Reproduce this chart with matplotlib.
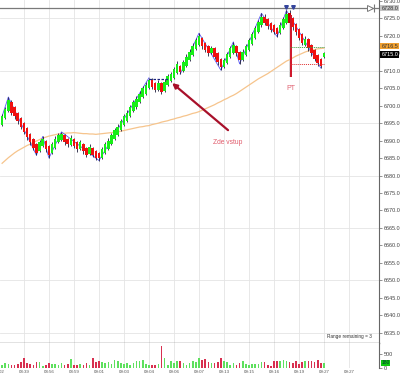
import matplotlib
matplotlib.use("Agg")
import matplotlib.pyplot as plt
from matplotlib.transforms import blended_transform_factory

plt.rcParams['font.family'] = ['Liberation Sans', 'DejaVu Sans']

# ---------------- data ----------------
opens = [6694.5, 6696.5, 6698.5, 6701.0, 6699.5, 6698.0, 6696.5, 6695.0, 6693.5, 6692.0,
         6690.5, 6689.0, 6687.0, 6688.5, 6690.0, 6688.5, 6686.5, 6688.0, 6689.5, 6690.3,
         6691.5, 6690.5, 6688.8, 6690.5, 6689.5, 6687.5, 6689.0, 6688.0, 6686.3, 6688.0,
         6687.0, 6686.5, 6685.0, 6686.5, 6687.5, 6689.0, 6690.5, 6691.5, 6693.0, 6694.5,
         6695.5, 6697.0, 6698.5, 6699.5, 6701.0, 6702.5, 6703.5, 6705.0, 6707.5, 6706.5,
         6704.5, 6706.5, 6704.2, 6706.0, 6707.0, 6708.0, 6709.5, 6711.5, 6710.0, 6711.5,
         6713.0, 6714.5, 6716.2, 6717.5, 6719.5, 6718.0, 6717.0, 6715.0, 6716.5, 6715.0,
         6713.5, 6711.0, 6712.2, 6714.0, 6715.2, 6717.0, 6715.5, 6713.0, 6714.5, 6716.0,
         6717.8, 6719.5, 6721.2, 6723.0, 6725.5, 6724.8, 6723.8, 6723.0, 6722.2, 6720.8,
         6722.2, 6723.8, 6726.5, 6725.0, 6723.5, 6722.0, 6720.5, 6717.5, 6719.0, 6717.5,
         6716.0, 6714.5, 6713.5, 6714.0]
highs = [6697.6, 6699.7, 6702.5, 6701.5, 6699.8, 6698.3, 6696.8, 6695.3, 6693.8, 6692.3,
         6690.8, 6689.3, 6690.2, 6691.2, 6690.3, 6688.8, 6689.7, 6691.2, 6692.3, 6692.5,
         6691.8, 6690.8, 6691.5, 6690.8, 6689.8, 6690.2, 6689.3, 6688.3, 6689.0, 6688.3,
         6687.3, 6686.8, 6688.2, 6689.7, 6690.7, 6692.2, 6693.7, 6694.7, 6696.2, 6697.7,
         6698.7, 6700.2, 6701.7, 6702.7, 6704.2, 6705.7, 6706.7, 6708.0, 6708.0, 6706.8,
         6707.5, 6706.8, 6707.8, 6709.0, 6709.7, 6711.2, 6712.8, 6711.8, 6713.2, 6714.7,
         6716.2, 6717.9, 6719.5, 6720.8, 6719.8, 6718.3, 6717.3, 6717.2, 6716.8, 6715.3,
         6713.8, 6713.7, 6715.5, 6717.2, 6718.3, 6717.3, 6715.8, 6716.2, 6717.7, 6719.5,
         6721.2, 6722.9, 6724.7, 6726.5, 6726.2, 6725.1, 6724.1, 6723.3, 6722.5, 6723.9,
         6725.5, 6727.3, 6727.4, 6725.3, 6723.8, 6722.3, 6720.8, 6720.0, 6719.3, 6717.8,
         6716.3, 6714.8, 6713.8, 6715.3]
lows = [6694.2, 6696.2, 6698.2, 6697.3, 6696.3, 6694.8, 6693.3, 6691.8, 6690.3, 6688.8,
        6687.3, 6685.8, 6686.7, 6688.2, 6686.8, 6685.0, 6686.2, 6687.7, 6689.2, 6690.0,
        6688.8, 6688.3, 6688.5, 6687.8, 6686.8, 6687.2, 6686.3, 6685.3, 6686.0, 6685.3,
        6684.5, 6684.3, 6684.7, 6686.2, 6687.2, 6688.7, 6690.2, 6691.2, 6692.7, 6694.2,
        6695.2, 6696.7, 6698.2, 6699.2, 6700.7, 6702.2, 6703.2, 6704.7, 6704.8, 6703.8,
        6704.2, 6703.5, 6703.9, 6705.7, 6706.7, 6707.7, 6709.2, 6709.1, 6709.7, 6711.2,
        6712.7, 6714.2, 6715.9, 6717.2, 6716.3, 6715.3, 6714.3, 6714.7, 6713.3, 6711.8,
        6710.2, 6710.7, 6711.9, 6713.7, 6714.9, 6714.3, 6712.0, 6712.7, 6714.2, 6715.7,
        6717.5, 6719.2, 6720.9, 6722.7, 6723.1, 6722.1, 6721.1, 6720.5, 6719.8, 6720.5,
        6721.9, 6723.5, 6723.1, 6721.8, 6720.3, 6718.8, 6717.3, 6717.2, 6715.8, 6714.3,
        6712.8, 6711.5, 6710.8, 6713.8]
closes = [6697.0, 6699.0, 6701.5, 6698.0, 6697.0, 6695.5, 6694.0, 6692.5, 6691.0, 6689.5,
          6688.0, 6686.5, 6689.5, 6690.5, 6687.5, 6686.0, 6689.0, 6690.5, 6691.5, 6691.8,
          6689.5, 6689.0, 6690.8, 6688.5, 6687.5, 6689.5, 6687.0, 6686.0, 6688.3, 6686.0,
          6685.0, 6685.0, 6687.5, 6689.0, 6690.0, 6691.5, 6693.0, 6694.0, 6695.5, 6697.0,
          6698.0, 6699.5, 6701.0, 6702.0, 6703.5, 6705.0, 6706.0, 6707.5, 6705.5, 6704.5,
          6706.5, 6704.0, 6706.8, 6708.5, 6709.0, 6710.5, 6712.0, 6709.8, 6712.5, 6714.0,
          6715.5, 6717.2, 6718.8, 6720.0, 6717.0, 6716.0, 6715.0, 6716.5, 6714.0, 6712.5,
          6711.0, 6713.0, 6714.8, 6716.5, 6717.5, 6715.0, 6713.2, 6715.5, 6717.0, 6718.8,
          6720.5, 6722.2, 6724.0, 6725.5, 6723.8, 6722.8, 6721.8, 6721.2, 6720.5, 6723.2,
          6724.8, 6726.3, 6723.8, 6722.5, 6721.0, 6719.5, 6718.0, 6719.0, 6716.5, 6715.0,
          6713.5, 6712.2, 6711.5, 6715.0]
volumes = [120, 180, 150, 100, 120, 150, 200, 360, 180, 150,
           120, 210, 220, 80, 120, 180, 130, 150, 120, 180,
           120, 150, 330, 120, 100, 140, 120, 180, 110, 340,
           210, 260, 220, 180, 210, 160, 300, 260, 180, 150,
           180, 120, 180, 260, 250, 300, 150, 100, 120, 110,
           130, 780, 360, 120, 240, 180, 240, 260, 180, 120,
           180, 240, 200, 360, 300, 335, 210, 180, 180, 200,
           360, 265, 215, 120, 180, 120, 180, 240, 150, 120,
           150, 140, 160, 215, 215, 120, 60, 240, 265, 265,
           300, 260, 215, 180, 240, 145, 215, 240, 265, 265,
           220, 300, 180, 180]
ma_values = [6683.5, 6684.3, 6685.1, 6685.8, 6686.5, 6687.1, 6687.6, 6688.1, 6688.6, 6689.0,
             6689.5, 6689.9, 6690.3, 6690.7, 6691.0, 6691.3, 6691.5, 6691.7, 6691.9, 6692.0,
             6692.1, 6692.2, 6692.2, 6692.3, 6692.2, 6692.1, 6692.0, 6692.0, 6691.9, 6691.9,
             6691.8, 6691.9, 6692.0, 6692.1, 6692.2, 6692.3, 6692.4, 6692.5, 6692.7, 6692.9,
             6693.1, 6693.3, 6693.5, 6693.7, 6693.9, 6694.0, 6694.2, 6694.3, 6694.6, 6694.8,
             6695.0, 6695.3, 6695.5, 6695.7, 6696.0, 6696.2, 6696.5, 6696.7, 6697.0, 6697.2,
             6697.5, 6697.8, 6698.0, 6698.3, 6698.7, 6699.1, 6699.5, 6699.9, 6700.3, 6700.8,
             6701.2, 6701.7, 6702.1, 6702.6, 6703.0, 6703.5, 6704.1, 6704.7, 6705.3, 6705.9,
             6706.5, 6707.1, 6707.7, 6708.2, 6708.7, 6709.2, 6709.8, 6710.4, 6711.0, 6711.6,
             6712.2, 6712.8, 6713.2, 6713.7, 6714.2, 6714.6, 6715.0, 6715.4, 6715.7, 6715.9,
             6716.1, 6716.3, 6716.4, 6716.5]
zigzag_a_x = [0, 2, 11, 13, 15, 19, 31, 47]
zigzag_a_y = [6697.0, 6702.5, 6685.8, 6691.2, 6685.0, 6692.5, 6684.3, 6708.0]
zigzag_b_x = [57, 63, 70, 74, 76, 83, 88, 91, 102]
zigzag_b_y = [6709.1, 6720.8, 6710.2, 6718.3, 6712.0, 6726.5, 6719.8, 6727.3, 6710.8]
double_top_x = [47, 53]
double_top_y = [6707.8, 6707.8]
time_labels = ["08:02", "08:39", "08:56", "08:59", "09:01", "09:03", "09:04", "09:06",
               "09:07", "09:13", "09:15", "09:16", "09:19", "09:27", "09:27"]
time_label_bars = [-1, 7, 15, 23, 31, 39, 47, 55, 63, 71, 79, 87, 95, 103, 111]
price_ticks = [6635 + 5 * k for k in range(20)]
grid_prices = [6635, 6650, 6665, 6680, 6695, 6710, 6725]
target_line = 6728.0
last_price = 6715.0
ma_last = 6716.5
pt_bar = 92
pt_top, pt_bottom = 6726.0, 6708.2
green_level, red_level = 6716.9, 6711.9
level_start, level_end = 92, 103
entry_tip = (54.4, 6706.5)
entry_tail = (72.3, 6693.0)
entry_text_pos = (72.3, 6689.6)
pt_text_pos = (92.4, 6704.8)

# ---------------- figure ----------------
W, H = 400, 379
fig = plt.figure(figsize=(4.0, 3.79), dpi=100)
ax = fig.add_axes([0, 36 / H, 379 / W, 343 / H])
axv = fig.add_axes([0, 11 / H, 379 / W, 25 / H])

xlim = (-0.672, 120.61)
for a in (ax, axv):
    a.set_xlim(*xlim)
    a.set_facecolor("white")
    for b in time_label_bars:
        a.axvline(b, color="#e4e4e4", lw=0.6, zorder=0)
ax.set_ylim(6632.0, 6730.3)
axv.set_ylim(0, 893)
for gp in grid_prices:
    ax.axhline(gp, color="#e4e4e4", lw=0.6, zorder=0)

up_col, dn_col = "#18ee18", "#f01010"
wick_col = "#1e1e3c"
idx = list(range(len(closes)))
cols = [up_col if c >= o else dn_col for o, c in zip(opens, closes)]
cols[pt_bar] = "#c00000"
bottoms = [min(o, c) for o, c in zip(opens, closes)]
heights = [abs(c - o) for o, c in zip(opens, closes)]

# MA and zigzag behind
ax.plot(idx, ma_values, color="#f6c48c", lw=0.9, zorder=2)
ax.plot(zigzag_a_x, zigzag_a_y, color="#5858f0", lw=0.6, zorder=2)
ax.plot(zigzag_b_x, zigzag_b_y, color="#5858f0", lw=0.6, zorder=2)

# PT shading
ax.bar([pt_bar + 0.3], [pt_top - pt_bottom], bottom=[pt_bottom], width=1.0,
       color="#d6d6d6", zorder=1)

ax.vlines(idx, lows, highs, color=wick_col, lw=0.6, zorder=3)
ax.bar(idx, heights, bottom=bottoms, width=0.8, color=cols, zorder=4, linewidth=0)

ax.plot(double_top_x, double_top_y, color="#1c2480", lw=0.9, ls=(0, (2, 1.2)), zorder=5)

ax.vlines([pt_bar + 0.3], [pt_bottom], [pt_top], color="#d01428", lw=1.4, zorder=5)
ax.plot([pt_bar - 1, pt_bar + 1], [6728.3, 6728.3], ls="none", marker="v", ms=2.6,
        color="#34449c", zorder=6)

ax.plot([level_start, level_end], [green_level] * 2, color="#3a9a3a", lw=0.7,
        ls=(0, (1, 1)), zorder=5)
ax.plot([level_start, level_end], [red_level] * 2, color="#e03030", lw=0.7,
        ls=(0, (1, 1)), zorder=5)

ax.axhline(target_line, color="#7a7a7a", lw=0.9, zorder=5)
ax.plot([117.7], [6728.1], marker=">", ms=5, mfc="white", mec="#777", mew=0.7, zorder=6)
ax.plot([119.1], [6728.1], marker="|", ms=5.5, mec="#777", mew=0.8, zorder=6)

ax.annotate("", xy=entry_tip, xytext=entry_tail,
            arrowprops=dict(arrowstyle="-|>", color="#a8102a", lw=1.6,
                            mutation_scale=7, shrinkA=0, shrinkB=0), zorder=7)
ax.text(*entry_text_pos, "Zde vstup", color="#e05a6a", fontsize=4.8,
        ha="center", va="center")
ax.text(*pt_text_pos, "PT", color="#e06070", fontsize=5, ha="center", va="center")
ax.text(118.4, 6634.0, "Range remaining = 3", fontsize=3.4, color="#333",
        ha="right", va="center")

# spines / ticks
for a in (ax, axv):
    for s in ("top", "left", "bottom"):
        a.spines[s].set_visible(False)
    a.spines["right"].set_color("#666")
    a.spines["right"].set_linewidth(0.8)
    a.yaxis.tick_right()
    a.tick_params(axis="y", length=2, width=0.5, color="#666", labelsize=4,
                  labelcolor="#444", pad=1.2)
    a.set_xticks([])
ax.spines["bottom"].set_visible(True)
ax.spines["bottom"].set_color("#707070")
ax.spines["bottom"].set_linewidth(1.0)
ax.set_yticks(price_ticks)
ax.set_yticklabels([f"{p:.1f}" for p in price_ticks])

tr = blended_transform_factory(ax.transAxes, ax.transData)
ax.text(1.006, target_line, f"{target_line:.1f}", transform=tr, fontsize=4, color="#333",
        ha="left", va="center", clip_on=False,
        bbox=dict(boxstyle="square,pad=0.15", fc="#c4c4c4", ec="none"))
ax.text(1.006, ma_last + 0.6, f"{ma_last:.1f}", transform=tr, fontsize=4, color="#333",
        ha="left", va="center", clip_on=False,
        bbox=dict(boxstyle="square,pad=0.15", fc="#f0a030", ec="none"))
ax.text(1.006, last_price - 0.3, f"{last_price:.1f}", transform=tr, fontsize=4, color="white",
        ha="left", va="center", clip_on=False,
        bbox=dict(boxstyle="square,pad=0.15", fc="black", ec="none"))

# volume
vcols = ["#5ee05e" if c >= o else "#d83050" for o, c in zip(opens, closes)]
axv.bar(idx, volumes, width=0.5, color=vcols, linewidth=0, zorder=3)
axv.set_yticks([0, 500])
axv.set_yticklabels(["0", "500"])
trv = blended_transform_factory(axv.transAxes, axv.transData)
axv.text(1.006, volumes[-1], f"{volumes[-1]}", transform=trv, fontsize=3.6, color="#033",
         ha="left", va="center", clip_on=False,
         bbox=dict(boxstyle="square,pad=0.15", fc="#10c810", ec="none"))

trx = blended_transform_factory(axv.transData, axv.transAxes)
for b, lab in zip(time_label_bars, time_labels):
    axv.text(b, -0.17, lab, transform=trx, fontsize=3.2, color="#555",
             ha="center", va="center", clip_on=False)

fig.savefig("out.png", dpi=100)
